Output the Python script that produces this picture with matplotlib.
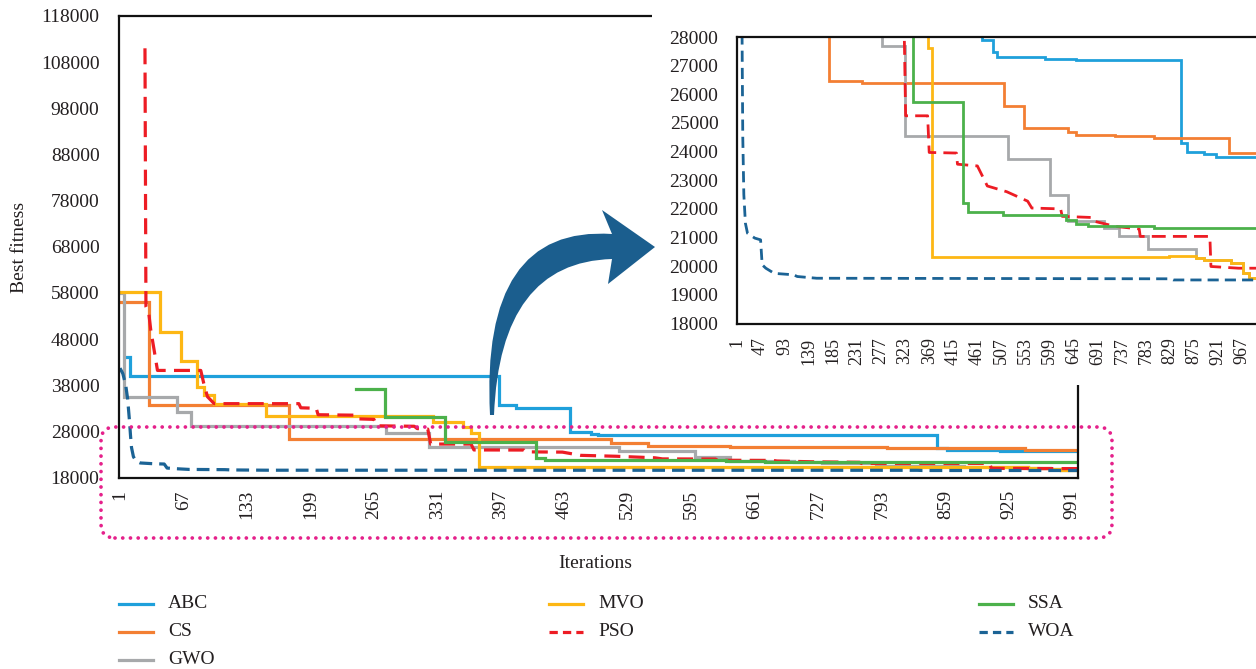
import numpy as np
import matplotlib
matplotlib.use('Agg')
import matplotlib.pyplot as plt
from matplotlib.patches import FancyBboxPatch, Rectangle, PathPatch
from matplotlib.path import Path
from matplotlib.lines import Line2D
from matplotlib.transforms import IdentityTransform

plt.rcParams['font.family'] = ['Liberation Serif', 'DejaVu Serif']

# convergence curves (iteration, best fitness)
abc_it = [8, 11, 395, 413, 469, 491, 498, 591, 650, 850, 861, 894, 916, 1000]
abc_val = [44200, 40100, 33700, 33100, 27880, 27470, 27300, 27240, 27200, 24300, 23970, 23900, 23800, 23800]

cs_it = [1, 31, 177, 240, 511, 550, 635, 650, 724, 798, 942, 1000]
cs_val = [56100, 33700, 26450, 26400, 25580, 24840, 24670, 24590, 24530, 24460, 23950, 23950]

gwo_it = [1, 5, 60, 75, 278, 322, 520, 599, 635, 702, 731, 787, 879, 894, 945, 968, 979, 1000]
gwo_val = [57900, 35400, 32250, 29220, 27700, 24530, 23730, 22500, 21570, 21330, 21040, 20600,
           20280, 20200, 20100, 19750, 19580, 19580]

mvo_it = [1, 43, 64, 81, 88, 99, 153, 326, 358, 366, 374, 827, 879, 894, 945, 968, 979, 1000]
mvo_val = [58300, 49500, 43300, 37700, 35900, 34000, 31300, 30000, 28900, 27600, 20320, 20370,
           20280, 20200, 20100, 19750, 19580, 19580]

pso_it = [27, 28, 31, 33, 37, 40, 85, 88, 92, 99, 187, 189, 205, 207, 247, 249, 265, 268, 307, 310,
          321, 324, 366, 369, 421, 423, 461, 480, 517, 557, 565, 620, 623, 680, 684, 724, 770, 772,
          905, 907, 960, 1000]
pso_val = [111000, 55000, 53500, 50000, 45000, 41200, 41200, 38500, 35500, 34000, 34000, 33100, 33000,
           31600, 31500, 30700, 30600, 29200, 29100, 28600, 28500, 25250, 25250, 23970, 23950, 23560,
           23500, 22800, 22600, 22270, 22030, 22000, 21740, 21700, 21570, 21390, 21300, 21040,
           21040, 19990, 19930, 19930]

ssa_it = [246, 277, 339, 434, 443, 509, 631, 650, 672, 798, 1000]
ssa_val = [37260, 31150, 25740, 22210, 21880, 21770, 21630, 21490, 21390, 21330, 21330]

woa_it = [1, 4, 7, 9, 11, 12, 13, 15, 18, 22, 36, 47, 50, 57, 73, 110, 117, 154, 830, 835, 1000]
woa_val = [41700, 40500, 38000, 35000, 30000, 27000, 24500, 22500, 21500, 21150, 20980, 20920, 20050,
           19930, 19750, 19700, 19640, 19580, 19560, 19520, 19520]

names = ['ABC', 'CS', 'GWO', 'MVO', 'PSO', 'SSA', 'WOA']
colors = ['#1fa0db', '#f37f33', '#a7a9ab', '#fdb714', '#ed1c24', '#4cb14b', '#1b6395']
xs = [abc_it, cs_it, gwo_it, mvo_it, pso_it, ssa_it, woa_it]
ys = [abc_val, cs_val, gwo_val, mvo_val, pso_val, ssa_val, woa_val]
stepped = [True, True, True, True, False, True, False]
dashes = [None, None, None, None, (5, 2.6), None, (4, 2.2)]

main_ticks = list(range(1, 1000, 66))
inset_ticks = list(range(1, 1000, 46))

TXT = '#231f20'
W, H = 1256, 669
fig = plt.figure(figsize=(W / 100, H / 100), dpi=100)


def px(x0, y0, x1, y1):
    return [x0 / W, 1 - y1 / H, (x1 - x0) / W, (y1 - y0) / H]


def draw_series(a, lw):
    for i in range(len(names)):
        kw = dict(color=colors[i], lw=lw, solid_joinstyle='miter')
        if dashes[i]:
            kw['dashes'] = dashes[i]
        if stepped[i]:
            a.step(xs[i], ys[i], where='post', **kw)
        else:
            a.plot(xs[i], ys[i], **kw)


# main axes
ax = fig.add_axes(px(119, 16, 1078, 477.5), zorder=0)
draw_series(ax, 2.3)
ax.set_xlim(0, 997)
ax.set_ylim(18000, 118000)
ax.set_yticks(range(18000, 118001, 10000))
ax.set_xticks(main_ticks)
ax.tick_params(axis='y', length=0, pad=14, labelsize=14, labelcolor=TXT)
ax.tick_params(axis='x', length=0, pad=9, labelsize=14, labelcolor=TXT, labelrotation=90)
for s in ax.spines.values():
    s.set_linewidth(1.6)
    s.set_color('#111111')

# white panel behind the zoomed view
fig.add_artist(Rectangle((652, H - 385), W - 652, 385, transform=IdentityTransform(),
                         facecolor='white', edgecolor='none', zorder=1))

# zoomed inset
ins = fig.add_axes(px(736.5, 37, 1257, 323.5), zorder=2)
draw_series(ins, 2.0)
ins.set_xlim(1, 995)
ins.set_ylim(18000, 28000)
ins.set_yticks(range(18000, 28001, 1000))
ins.set_xticks(inset_ticks)
ins.tick_params(axis='y', length=0, pad=13, labelsize=14, labelcolor=TXT)
ins.tick_params(axis='x', length=0, pad=10, labelsize=13, labelcolor=TXT, labelrotation=90)
for s in ins.spines.values():
    s.set_linewidth(1.6)
    s.set_color('#111111')

# dotted rounded box around the lower band
box = FancyBboxPatch((101, H - 538), 1011, 111, boxstyle='round,pad=0,rounding_size=14',
                     transform=IdentityTransform(), fill=False, edgecolor='#e5218b',
                     lw=2.7, linestyle=(0, (0.01, 2.05)), zorder=3)
box.set_capstyle('round')
fig.add_artist(box)

# curved arrow pointing to the inset
arrow_pts = [(490, 415), (480, 225), (612, 234), (602, 210), (655, 247), (608, 284),
             (612, 259), (500, 262), (494, 415), (490, 415)]
codes = [Path.MOVETO, Path.CURVE3, Path.CURVE3, Path.LINETO, Path.LINETO, Path.LINETO,
         Path.LINETO, Path.CURVE3, Path.CURVE3, Path.CLOSEPOLY]
verts = [(x, H - y) for x, y in arrow_pts]
fig.add_artist(PathPatch(Path(verts, codes), transform=IdentityTransform(),
                         facecolor='#1b5e8e', edgecolor='none', zorder=4))

# axis titles
fig.text(20 / W, 1 - 247 / H, 'Best fitness', rotation=90, ha='center', va='center',
         fontsize=14, color=TXT)
fig.text(595 / W, 1 - 563 / H, 'Iterations', ha='center', va='center', fontsize=14, color=TXT)

# legend, three columns filled top to bottom
col_x = [119, 549, 979]
row_y = [604, 632, 660]
for i, name in enumerate(names):
    col = 0 if i < 3 else (1 if i < 5 else 2)
    row = i if i < 3 else (i - 3 if i < 5 else i - 5)
    x, y = col_x[col], row_y[row]
    kw = dict(color=colors[i], lw=2.3, transform=IdentityTransform())
    if dashes[i]:
        kw['dashes'] = (2.6, 1.6)
    fig.add_artist(Line2D([x, x + 34], [H - y, H - y], **kw))
    fig.text((x + 49) / W, 1 - y / H, name, ha='left', va='center', fontsize=14, color=TXT)

fig.savefig('out.png', dpi=100, facecolor='white')
